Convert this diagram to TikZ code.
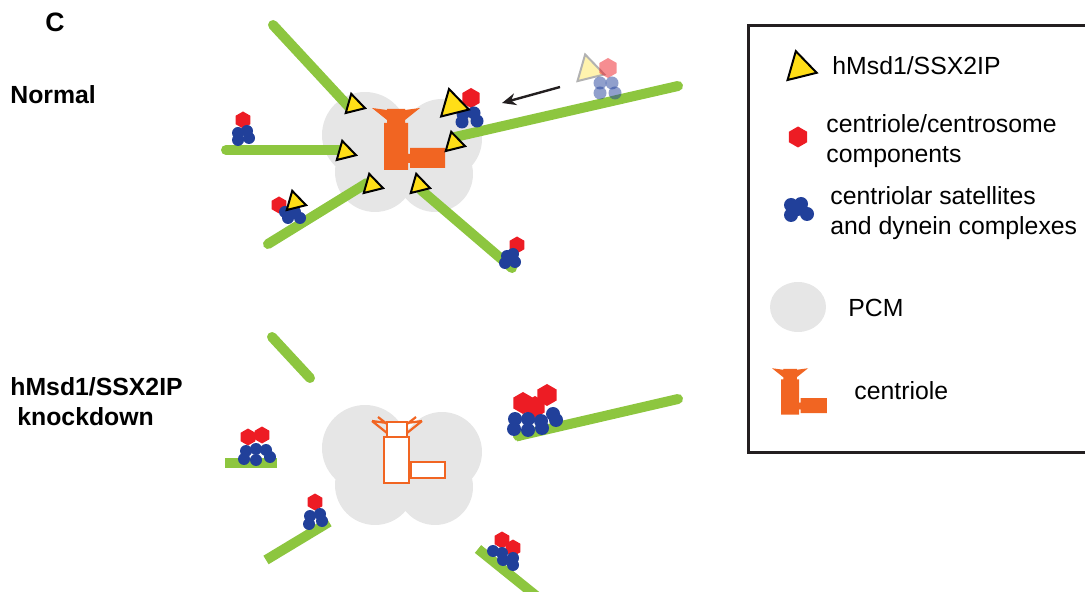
\documentclass[tikz,border=0pt]{standalone}
\usepackage{fontspec}
\setmainfont{Liberation Sans}
\usetikzlibrary{arrows.meta,calc}

\definecolor{mtgreen}{RGB}{141,198,63}
\definecolor{pcmgray}{RGB}{230,230,230}
\definecolor{ctorange}{RGB}{241,101,34}
\definecolor{hexred}{RGB}{237,28,36}
\definecolor{satblue}{RGB}{33,64,154}
\definecolor{msdyellow}{RGB}{255,222,23}
\definecolor{framegray}{RGB}{35,31,32}

\newcommand\figfont{\fontsize{12.4}{15}\selectfont}

\tikzset{
    microtubule/.style={
        draw=mtgreen,
        line width=5pt,
        line cap=round
    },
    stub/.style={
        draw=mtgreen,
        line width=5pt
    },
    pcm/.style={
        fill=pcmgray
    },
    satellite/.style={
        fill=satblue
    },
    marker/.style={
        draw=black,
        fill=msdyellow,
        line width=1pt
    },
    faded/.style={
        draw=black!30,
        fill=msdyellow!35,
        line width=1pt
    },
    title/.style={
        font=\figfont\bfseries,
        anchor=base west,
        inner sep=0pt
    },
    legendtext/.style={
        font=\figfont,
        anchor=base west,
        align=left,
        inner sep=0pt
    },
    % shapes, sized by scale
    hexagon/.pic={
        \path[pic actions] (90:1) -- (150:1) -- (210:1) -- (270:1) -- (330:1) -- (30:1) -- cycle;
    },
    hmsd/.pic={
        \path[pic actions] (16:1) -- (136:1) -- (256:1) -- cycle;
    },
    pcmcloud/.pic={
        \fill[pcm] (-38,-20) circle[radius=43] (39,-16) circle[radius=40]
            (-28,17) circle[radius=40] (32,19) circle[radius=38] (0,0) circle[radius=40];
    },
    centriole/.pic={
        \fill[ctorange] (3,0) rectangle (21,14) (0,14) rectangle (24,61)
            (26,39) rectangle (61,59) (24,45) rectangle (26,54)
            (-12,-1) -- (3,1) -- (3,11) -- cycle
            (36,-1) -- (21,1) -- (21,11) -- cycle;
    },
    emptycentriole/.pic={
        \draw[ctorange, line width=1.1pt] (-12,-1) -- (3,1) (-12,-1) -- (3,11) (-6,-5) -- (3,2)
            (38,-1) -- (23,1) (38,-1) -- (23,11) (32,-5) -- (23,2);
        \filldraw[draw=ctorange, fill=white, line width=1.4pt] (3,0) rectangle (23,15) (0,15) rectangle (25,61)
            (27,40) rectangle (61,56) (25,43) rectangle (27,53);
    },
}

\begin{document}
\begin{tikzpicture}[x=0.5pt, y=-0.5pt]
    \useasboundingbox (0,0) rectangle (1085,592);

    % labels
    \node[title, font=\fontsize{13.3}{16}\selectfont\bfseries] (panel) at (45,32) {C};
    \node[title] (normal) at (10,104) {Normal};
    \node[title, align=left] (knockdown) at (10,425) {hMsd1/SSX2IP\\\hspace*{3.5pt}knockdown};

    % normal: PCM and centriole
    \pic at (403,155) {pcmcloud};
    \pic at (384,109) {centriole};

    % normal: microtubules
    \draw[microtubule] (273,25) -- (349,107);
    \draw[microtubule] (226,150) -- (340,150);
    \draw[microtubule] (268,244) -- (367,183);
    \draw[microtubule] (421,190) -- (512,268);
    \draw[microtubule] (455,137) -- (678,86);

    % normal: satellites with cargo
    \pic[fill=hexred, scale=8.5] at (243,120) {hexagon};
    \foreach \p in {(238,133),(247,131),(238,140),(249,138)}
        \fill[satellite] \p circle[radius=6];
    \pic[fill=hexred, scale=8.5] at (279,205) {hexagon};
    \foreach \p in {(285,212),(295,212),(288,218),(300,218)}
        \fill[satellite] \p circle[radius=6];
    \pic[fill=hexred, scale=8.5] at (517,245) {hexagon};
    \foreach \p in {(507,256),(513,254),(505,263),(515,262)}
        \fill[satellite] \p circle[radius=6];
    \pic[fill=hexred, scale=10] at (471,98) {hexagon};
    \foreach \p in {(463,114),(474,113),(462,122),(477,121)}
        \fill[satellite] \p circle[radius=6.5];

    % incoming complex
    \pic[faded, scale=16] at (589,70) {hmsd};
    \pic[fill=hexred, fill opacity=0.5, scale=10] at (608,68) {hexagon};
    \foreach \p in {(600,83),(612,83),(600,93),(615,93)}
        \fill[satblue, fill opacity=0.5] \p circle[radius=6.5];
    \coordinate (cargo) at (560,87);
    \coordinate (minusend) at (502,103);
    \draw[-{Stealth[length=7pt, width=6pt]}, line width=1.2pt, framegray] (cargo) -- (minusend);

    % normal: hMsd1 markers
    \foreach \c in {(354,105),(345,152),(372,185),(419,185),(454,143),(295,202)}
        \pic[marker, scale=11.5] at \c {hmsd};
    \pic[marker, scale=16.5] at (453,105) {hmsd};

    % knockdown: PCM and centriole
    \pic at (403,468) {pcmcloud};
    \pic at (384,422) {emptycentriole};

    % knockdown: microtubules
    \draw[microtubule] (272,337) -- (310,378);
    \draw[stub] (225,463) -- (277,463);
    \draw[stub] (266,560) -- (329,522);
    \draw[microtubule] (678,399) -- (518,436);
    \draw[stub] (516,436.5) -- (520,435.5);
    \draw[stub] (478,549) -- (540,599);

    % knockdown: clustered satellites
    \pic[fill=hexred, scale=8.5] at (248,437) {hexagon};
    \pic[fill=hexred, scale=8.5] at (262,435) {hexagon};
    \foreach \p in {(246,451),(256,449),(266,450),(244,459),(256,460),(270,457)}
        \fill[satellite] \p circle[radius=6];
    \pic[fill=hexred, scale=8.5] at (315,502) {hexagon};
    \foreach \p in {(310,516),(320,514),(309,524),(322,521)}
        \fill[satellite] \p circle[radius=6];
    \pic[fill=hexred, scale=11] at (523,403) {hexagon};
    \pic[fill=hexred, scale=11] at (535,407) {hexagon};
    \pic[fill=hexred, scale=11] at (547,395) {hexagon};
    \foreach \p in {(515,419),(528,419),(541,421),(553,414),(514,429),(528,430),(542,428),(556,420)}
        \fill[satellite] \p circle[radius=7];
    \pic[fill=hexred, scale=8.5] at (502,540) {hexagon};
    \pic[fill=hexred, scale=8.5] at (513,548) {hexagon};
    \foreach \p in {(493,551),(502,553),(503,560),(513,558),(513,565)}
        \fill[satellite] \p circle[radius=6];

    % legend
    \draw[line width=1.5pt, framegray] (748,26) rectangle (1100,452);
    \pic[marker, scale=17.3] at (800,68) {hmsd};
    \node[legendtext] (lg-msd) at (832,75) {hMsd1/SSX2IP};
    \pic[fill=hexred, scale=10.5] at (798,137) {hexagon};
    \node[legendtext] (lg-hex) at (826,163) {centriole/centrosome\\components};
    \foreach \p in {(791,205),(801,204),(798,209),(791,215),(807,214)}
        \fill[satellite] \p circle[radius=7];
    \node[legendtext] (lg-sat) at (830,235) {centriolar satellites\\and dynein complexes};
    \fill[pcm] (798,307) ellipse[x radius=28, y radius=25];
    \node[legendtext] (lg-pcm) at (848,317) {PCM};
    \pic[scale=0.75] at (781,369) {centriole};
    \node[legendtext] (lg-ctr) at (854,400) {centriole};
\end{tikzpicture}
\end{document}
